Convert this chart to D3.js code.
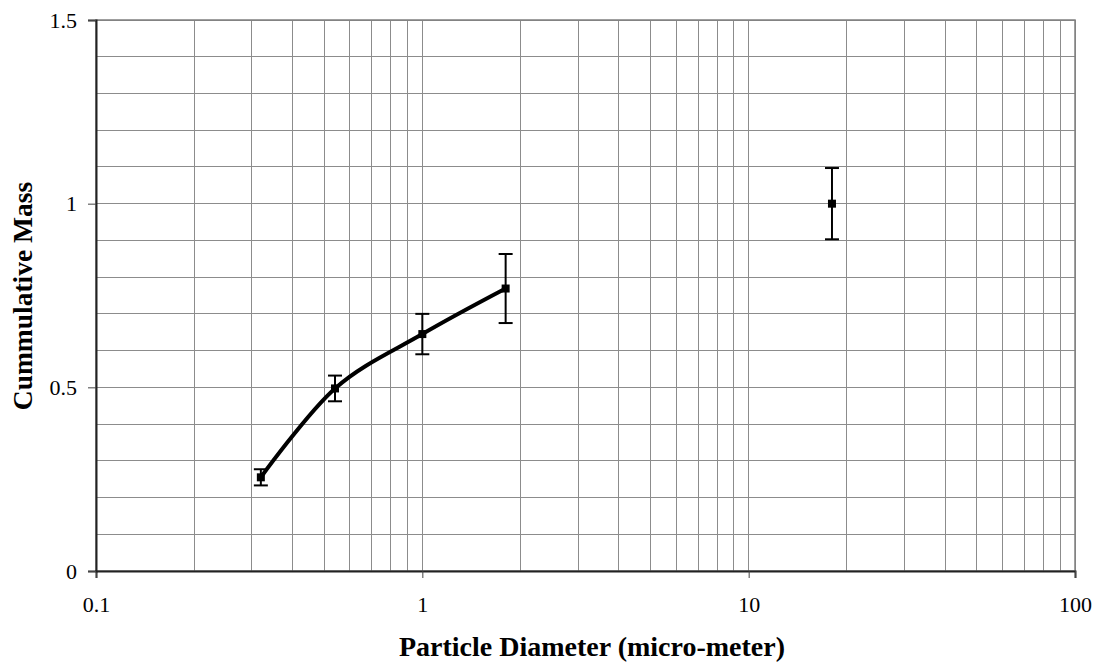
<!DOCTYPE html>
<html><head><meta charset="utf-8">
<script src="https://cdn.jsdelivr.net/npm/d3@7"></script>
<style>body{margin:0;background:#fff}svg{display:block}</style>
</head><body>
<svg id="c" width="1098" height="664"></svg>
<script>
const diameters = [0.32, 0.54, 1.0, 1.8, 18];
const massValues = [0.255, 0.497, 0.645, 0.769, 1.0];
const errorValues = [0.022, 0.035, 0.055, 0.094, 0.097];
const lineCount = 4; // first 4 points joined by a smoothed line
const xTicks = [0.1, 1, 10, 100];
const yTicks = [0, 0.5, 1, 1.5];

const svg = d3.select('#c');
const m = {l:96, r:1075, t:20, b:571};
const x = d3.scaleLog().domain([0.1,100]).range([m.l, m.r]);
const y = d3.scaleLinear().domain([0,1.5]).range([m.b, m.t]);
const font = "'Liberation Serif','Times New Roman',serif";

// grid
const vgrid = [];
for (let d=0.1; d<100; d*=10) for (let k=1;k<=9;k++) vgrid.push(+(d*k).toPrecision(3));
vgrid.push(100);
svg.append('g').selectAll('line').data(vgrid).join('line')
  .attr('x1',d=>x(d)).attr('x2',d=>x(d)).attr('y1',m.t).attr('y2',m.b)
  .attr('stroke','#8c8c8c').attr('stroke-width',1).attr('shape-rendering','crispEdges');
const hgrid = d3.range(0,16).map(i=>i/10);
svg.append('g').selectAll('line').data(hgrid).join('line')
  .attr('x1',m.l).attr('x2',m.r).attr('y1',d=>y(d)).attr('y2',d=>y(d))
  .attr('stroke','#8c8c8c').attr('stroke-width',1).attr('shape-rendering','crispEdges');
svg.append('rect').attr('x',m.l).attr('y',m.t).attr('width',m.r-m.l).attr('height',m.b-m.t)
  .attr('fill','none').attr('stroke','#808080').attr('stroke-width',1.5);

// axes
const xa = svg.append('g').attr('transform',`translate(0,${m.b})`)
  .call(d3.axisBottom(x).tickValues(xTicks).tickFormat(d=>String(d)).tickSize(7).tickPadding(18));
const ya = svg.append('g').attr('transform',`translate(${m.l},0)`)
  .call(d3.axisLeft(y).tickValues(yTicks).tickFormat(d=>String(d)).tickSize(8).tickPadding(11));
[xa,ya].forEach(a=>{
  a.attr('font-family',font).attr('font-size',22);
  a.select('.domain').attr('stroke','#222').attr('stroke-width',2);
  a.selectAll('.tick line').attr('stroke','#444');
  a.selectAll('text').style('font-family',font).style('font-size','22px').attr('fill','#000');
});

// smoothed line
const pts = diameters.map((d,i)=>({d, v:massValues[i], e:errorValues[i]}));
svg.append('path').datum(pts.slice(0,lineCount))
  .attr('d', d3.line().x(p=>x(p.d)).y(p=>y(p.v)).curve(d3.curveCardinal.tension(0)))
  .attr('fill','none').attr('stroke','#000').attr('stroke-width',4);

// error bars
const eb = svg.append('g').selectAll('g').data(pts).join('g');
eb.append('line').attr('x1',p=>x(p.d)).attr('x2',p=>x(p.d))
  .attr('y1',p=>y(p.v+p.e)).attr('y2',p=>y(p.v-p.e)).attr('stroke','#000').attr('stroke-width',2);
eb.append('line').attr('x1',p=>x(p.d)-7).attr('x2',p=>x(p.d)+7)
  .attr('y1',p=>y(p.v+p.e)).attr('y2',p=>y(p.v+p.e)).attr('stroke','#000').attr('stroke-width',2);
eb.append('line').attr('x1',p=>x(p.d)-7).attr('x2',p=>x(p.d)+7)
  .attr('y1',p=>y(p.v-p.e)).attr('y2',p=>y(p.v-p.e)).attr('stroke','#000').attr('stroke-width',2);
eb.append('rect').attr('x',p=>x(p.d)-4).attr('y',p=>y(p.v)-4).attr('width',8).attr('height',8).attr('fill','#000');

// titles
svg.append('text').attr('x',592).attr('y',656).attr('text-anchor','middle')
  .attr('font-family',font).attr('font-weight','bold').attr('font-size',28).text('Particle Diameter (micro-meter)');
svg.append('text').attr('transform',`translate(32,296) rotate(-90)`).attr('text-anchor','middle')
  .attr('font-family',font).attr('font-weight','bold').attr('font-size',27.5).text('Cummulative Mass');
</script>
</body></html>
